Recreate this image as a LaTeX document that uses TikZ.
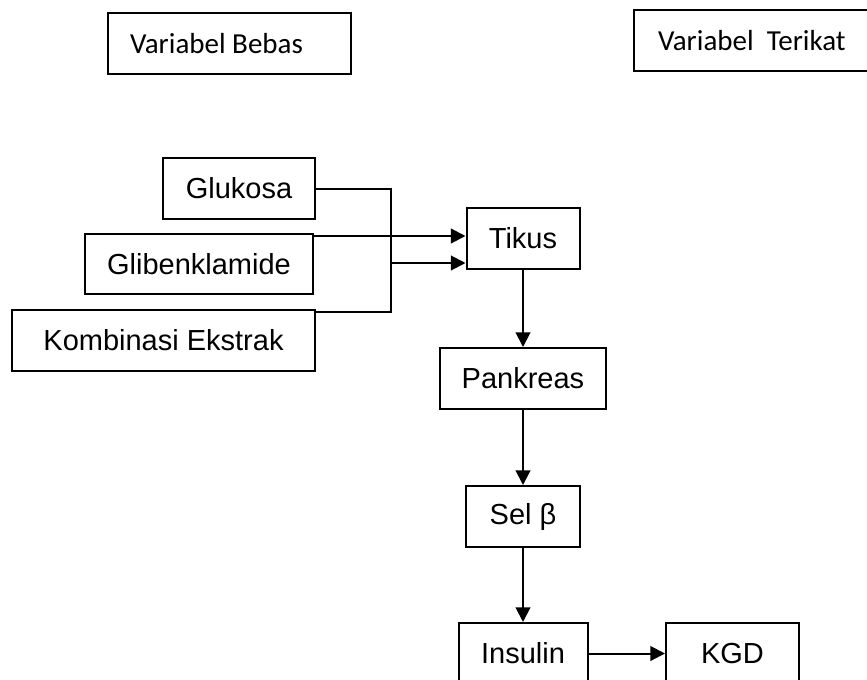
\documentclass[tikz,border=0pt]{standalone}
\usepackage{fontspec}
\setmainfont{Liberation Sans}
\newfontfamily\calib{Carlito}
\usetikzlibrary{arrows.meta}

\begin{document}
\begin{tikzpicture}[
    x=0.75pt, y=-0.75pt,
    box/.style={draw, line width=1.5pt, minimum height=45.75pt, inner sep=0pt,
                font=\fontsize{21.75}{26}\selectfont},
    lbl/.style={draw, line width=1.5pt, minimum height=45.75pt, inner ysep=0pt,
                font=\calib\fontsize{21.75}{26}\selectfont},
    arrow/.style={-{Triangle[length=11pt, width=11pt]}, line width=1.5pt},
    line/.style={line width=1.5pt}
]
    \clip (0,0) rectangle (867,679);

    % labels at the top
    \node[lbl, inner xsep=16.5pt] (bebas) at (229.5,43.5) {\makebox[149.25pt][l]{Variabel Bebas}};
    \node[lbl, inner xsep=18pt] (terikat) at (755.5,40.5) {\makebox[146.25pt][l]{Variabel\ \ Terikat}};

    % inputs
    \node[box, minimum width=114pt] (glukosa) at (239,188.5) {Glukosa};
    \node[box, minimum width=171pt, minimum height=45pt] (gliben) at (199,264) {Glibenklamide};
    \node[box, minimum width=227.25pt] (kombinasi) at (163.5,340.5) {Kombinasi Ekstrak};

    % chain
    \node[box, minimum width=84.75pt] (tikus) at (523,238.5) {Tikus};
    \node[box, minimum width=124.5pt] (pankreas) at (523,378.5) {Pankreas};
    \node[box, minimum width=85.5pt] (sel) at (523,516.5) {Sel β};
    \node[box, minimum width=96.75pt] (insulin) at (523,653.5) {Insulin};
    \node[box, minimum width=99.75pt] (kgd) at (732.5,653.5) {KGD};

    \coordinate (glib) at ([yshift=-2.25pt]gliben.north east);
    \coordinate (komb) at ([yshift=-2.25pt]kombinasi.north east);
    \coordinate (merge) at (391,263);

    \draw[line] (glukosa.east) -| (merge) |- (komb);
    \draw[arrow] (glib) -- (glib -| tikus.west);
    \draw[arrow] (merge) -- (merge -| tikus.west);
    \draw[arrow] (tikus) -- (pankreas);
    \draw[arrow] (pankreas) -- (sel);
    \draw[arrow] (sel) -- (insulin);
    \draw[arrow] (insulin) -- (kgd);
\end{tikzpicture}
\end{document}
